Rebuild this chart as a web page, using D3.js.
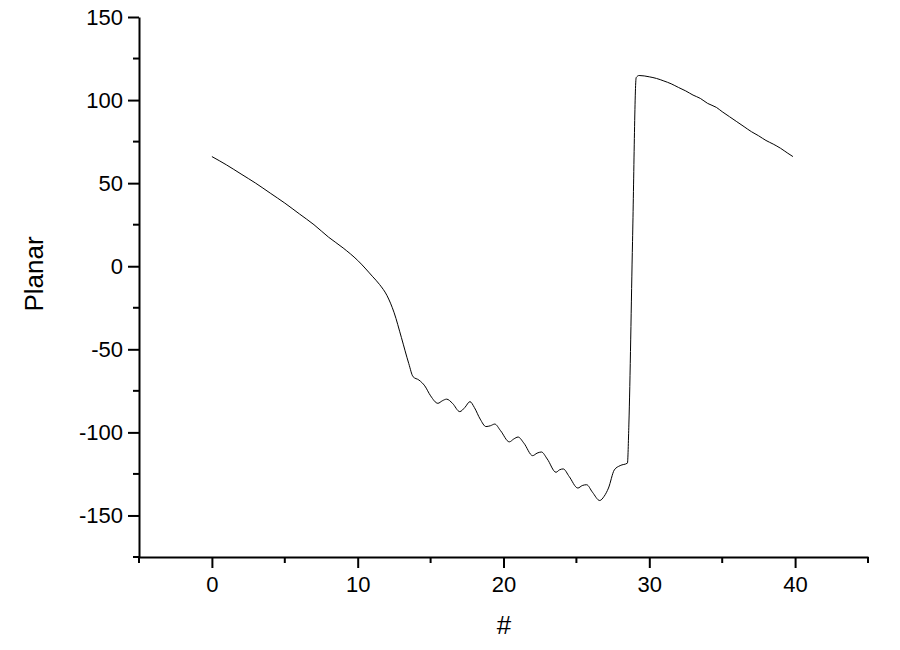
<!DOCTYPE html>
<html>
<head>
<meta charset="utf-8">
<script src="https://cdn.jsdelivr.net/npm/d3@7"></script>
<style>
  body { margin: 0; background: #fff; }
  svg { display: block; font-family: Arial, "Liberation Sans", sans-serif; }
</style>
</head>
<body>
<div id="chart"></div>
<script>
// data
var xs = [0, 1, 2, 3, 4, 5, 6, 7, 8, 9, 10, 11, 11.5, 12, 12.5, 13, 13.5, 13.8, 14.2, 14.6,
    15.0, 15.5, 15.8, 16.1, 16.5, 17.0, 17.35, 17.7, 18.0, 18.4, 18.8, 19.1, 19.4, 19.8,
    20.4, 20.7, 21.0, 21.4, 22.0, 22.3, 22.6, 23.0, 23.6, 23.85, 24.1, 24.5, 25.1, 25.4,
    25.7, 26.1, 26.6, 26.9, 27.2, 27.6, 28.0, 28.5, 28.6, 28.85, 29.1, 29.3, 30, 30.5,
    31, 31.5, 32, 32.5, 33, 33.5, 34, 34.6, 35, 35.5, 36, 36.5, 37, 37.5, 38, 38.5, 39,
    39.5, 39.85];
var ys = [66, 61, 55.5, 50, 44, 38, 31.5, 25, 17.5, 11, 3.5, -6, -11, -17.5, -28, -43, -58.5, -66.5, -68.5, -72,
    -78, -82.5, -81, -80, -82.5, -87.5, -85, -81.5, -85, -92, -96.5, -96, -95, -99,
    -105.7, -104, -102.8, -106.5, -114, -112.5, -111.8, -116, -124, -122.5, -122, -126.5, -133.5, -132,
    -131.5, -136, -141, -138.5, -133.5, -122.6, -120, -118.5, -95, 15, 113.5, 114.8, 114, 113,
    111.5, 109.8, 107.6, 105.5, 103, 101, 98, 95.6, 93, 90, 87, 84, 81, 78.5, 75.7, 73.5, 71,
    68, 66];

var xMajor = [0, 10, 20, 30, 40];
var xMinor = [-5, 5, 15, 25, 35, 45];
var yMajor = [-150, -100, -50, 0, 50, 100, 150];
var yMinor = [-175, -125, -75, -25, 25, 75, 125];

var width = 900, height = 650;
var svg = d3.select("#chart").append("svg")
    .attr("width", width)
    .attr("height", height);

var xScale = d3.scaleLinear().domain([-5, 45]).range([139, 868]);
var yScale = d3.scaleLinear().domain([-175, 150]).range([557, 17]);

var fmt = d => String(d); // plain hyphen minus like the original

// axes
var xAxis = d3.axisBottom(xScale).tickValues(xMajor).tickFormat(fmt)
    .tickSize(11).tickPadding(8).tickSizeOuter(0);
var yAxis = d3.axisLeft(yScale).tickValues(yMajor).tickFormat(fmt)
    .tickSize(11).tickPadding(5).tickSizeOuter(0);

var gx = svg.append("g").attr("transform", "translate(0,557)").call(xAxis);
var gy = svg.append("g").attr("transform", "translate(139,0)").call(yAxis);

gx.selectAll(".minor").data(xMinor).enter().append("line")
    .attr("class", "minor")
    .attr("x1", d => xScale(d)).attr("x2", d => xScale(d))
    .attr("y1", 0).attr("y2", 6);
gy.selectAll(".minor").data(yMinor).enter().append("line")
    .attr("class", "minor")
    .attr("y1", d => yScale(d)).attr("y2", d => yScale(d))
    .attr("x1", 0).attr("x2", -6);

[gx, gy].forEach(g => {
    g.attr("font-size", 22).attr("font-family", "Arial, 'Liberation Sans', sans-serif");
    g.select(".domain").attr("stroke", "#000").attr("stroke-width", 2);
    g.selectAll(".tick line, line.minor").attr("stroke", "#000").attr("stroke-width", 2);
    g.selectAll(".tick text").attr("fill", "#000");
});

// axis titles
svg.append("text")
    .attr("x", 504).attr("y", 634)
    .attr("text-anchor", "middle")
    .style("font-size", "26px")
    .text("#");

svg.append("text")
    .attr("transform", "translate(43,274) rotate(-90)")
    .attr("text-anchor", "middle")
    .style("font-size", "26px")
    .text("Planar");

// line
var pts = xs.map((x, i) => [x, ys[i]]);
var line = d3.line()
    .x(d => xScale(d[0]))
    .y(d => yScale(d[1]))
    .curve(d3.curveMonotoneX);

svg.append("path")
    .datum(pts)
    .attr("d", line)
    .attr("fill", "none")
    .attr("stroke", "#000")
    .attr("stroke-width", 1);
</script>
</body>
</html>
